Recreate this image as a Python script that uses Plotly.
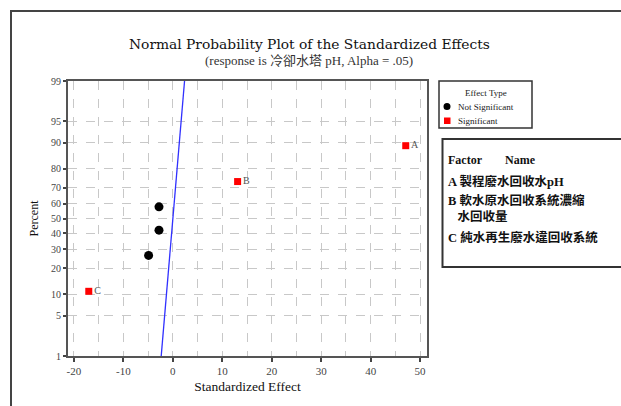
import plotly.graph_objects as go
from statistics import NormalDist

# ---- data ----
effect_labels = ["C", "", "", "", "B", "A"]
effects = [-17.0, -4.9, -2.8, -2.8, 13.1, 47.1]
percents = [10.9, 26.6, 42.2, 57.8, 73.4, 89.1]
significant = [True, False, False, False, True, True]
line_effect = [-2.35, 2.37]
line_percent = [1, 99]
y_ticks = [1, 5, 10, 20, 30, 40, 50, 60, 70, 80, 90, 95, 99]
x_ticks = [-20, -10, 0, 10, 20, 30, 40, 50]
factors = ["A", "B", "C"]
factor_names = ["製程廢水回收水pH", "軟水原水回收系統濃縮<br>   水回收量", "純水再生廢水違回收系統"]

nd = NormalDist()
z = lambda p: nd.inv_cdf(p / 100.0)

W, H = 621, 406
L, R, T, B = 68, 427, 81, 356
px = lambda v: (v - L) / (R - L)
py = lambda v: (B - v) / (B - T)

SERIF = "Liberation Serif, Times New Roman, serif"
WIDE = "DejaVu Serif, serif"
CJK = "Liberation Serif, Noto Sans CJK TC, serif"

fig = go.Figure()

fig.add_trace(go.Scatter(
    x=line_effect, y=[z(p) for p in line_percent], mode="lines",
    line=dict(color="#3030ff", width=1.3), showlegend=False, hoverinfo="skip"))

ns_x = [e for e, s in zip(effects, significant) if not s]
ns_y = [z(p) for p, s in zip(percents, significant) if not s]
fig.add_trace(go.Scatter(
    x=ns_x, y=ns_y, mode="markers",
    marker=dict(symbol="circle", size=9, color="black"), showlegend=False))

s_x = [e for e, s in zip(effects, significant) if s]
s_y = [z(p) for p, s in zip(percents, significant) if s]
s_t = [l for l, s in zip(effect_labels, significant) if s]
fig.add_trace(go.Scatter(
    x=s_x, y=s_y, mode="markers+text", text=s_t, textposition="middle right",
    textfont=dict(family=SERIF, size=10, color="#555555"),
    marker=dict(symbol="square", size=7, color="#ff0000"), showlegend=False))

shapes = []
annotations = []

# outer frame
shapes.append(dict(type="line", xref="paper", yref="paper", x0=px(10), x1=px(625), y0=py(11), y1=py(11),
                   line=dict(color="#444444", width=2)))
shapes.append(dict(type="line", xref="paper", yref="paper", x0=px(11), x1=px(11), y0=py(11), y1=py(410),
                   line=dict(color="#444444", width=2)))

# legend box
shapes.append(dict(type="rect", xref="paper", yref="paper", x0=px(439), x1=px(532), y0=py(128), y1=py(81),
                   line=dict(color="#333333", width=1.5), fillcolor="white"))
annotations.append(dict(xref="paper", yref="paper", x=px(486), y=py(93), text="Effect Type", showarrow=False,
                        xanchor="center", yanchor="middle", font=dict(family=SERIF, size=9, color="#222")))
shapes.append(dict(type="circle", xref="paper", yref="paper", x0=px(443.5), x1=px(450.5), y0=py(110), y1=py(103),
                   line=dict(color="black", width=0), fillcolor="black"))
annotations.append(dict(xref="paper", yref="paper", x=px(456), y=py(107), text="Not Significant", showarrow=False,
                        xanchor="left", yanchor="middle", font=dict(family=SERIF, size=9, color="#222")))
shapes.append(dict(type="rect", xref="paper", yref="paper", x0=px(444), x1=px(450.5), y0=py(124), y1=py(117.5),
                   line=dict(color="red", width=0), fillcolor="#ff0000"))
annotations.append(dict(xref="paper", yref="paper", x=px(456), y=py(121), text="Significant", showarrow=False,
                        xanchor="left", yanchor="middle", font=dict(family=SERIF, size=9, color="#222")))

# factor box
shapes.append(dict(type="rect", xref="paper", yref="paper", x0=px(442.5), x1=px(640), y0=py(267), y1=py(139),
                   line=dict(color="#333333", width=2), fillcolor="white"))
annotations.append(dict(xref="paper", yref="paper", x=px(446), y=py(160), text="<b>Factor</b>", showarrow=False,
                        xanchor="left", yanchor="middle", font=dict(family=SERIF, size=12, color="#111")))
annotations.append(dict(xref="paper", yref="paper", x=px(503), y=py(160), text="<b>Name</b>", showarrow=False,
                        xanchor="left", yanchor="middle", font=dict(family=SERIF, size=12, color="#111")))
rows_y = [181, 208, 237]
for f, name, yy in zip(factors, factor_names, rows_y):
    annotations.append(dict(xref="paper", yref="paper", x=px(446), y=py(yy),
                            text="<b>" + f + " " + name + "</b>", showarrow=False, align="left",
                            xanchor="left", yanchor="middle",
                            font=dict(family=CJK, size=12.5, color="#111")))

# titles
annotations.append(dict(xref="paper", yref="paper", x=px(309), y=py(44),
                        text="Normal Probability Plot of the Standardized Effects", showarrow=False,
                        xanchor="center", yanchor="middle", font=dict(family=WIDE, size=13.8, color="#111")))
annotations.append(dict(xref="paper", yref="paper", x=px(309), y=py(61),
                        text="(response is 冷卻水塔 pH, Alpha = .05)", showarrow=False,
                        xanchor="center", yanchor="middle", font=dict(family=CJK, size=13, color="#333")))

fig.update_layout(
    width=W, height=H, margin=dict(l=L, r=W - R, t=T, b=H - B, autoexpand=False),
    paper_bgcolor="white", plot_bgcolor="white",
    shapes=shapes, annotations=annotations, showlegend=False,
    font=dict(family=SERIF, color="#333"),
)

fig.update_xaxes(
    range=[-21.2, 51.4], tickvals=x_ticks, ticktext=[str(v) for v in x_ticks],
    ticks="outside", ticklen=4, tickwidth=1.5, tickcolor="#444",
    showgrid=True, gridcolor="#c8c8c8", griddash="dash", gridwidth=1,
    minor=dict(dtick=5, tick0=0, showgrid=True, gridcolor="#c8c8c8", griddash="dash", ticks=""),
    showline=True, linecolor="#555", linewidth=2, mirror=True, zeroline=False,
    tickfont=dict(family=SERIF, size=11, color="#444"),
    title=dict(text="Standardized Effect", font=dict(family=SERIF, size=13.5, color="#111"), standoff=5),
)
fig.update_yaxes(
    range=[z(1), z(99)], tickvals=[z(p) for p in y_ticks], ticktext=[str(p) for p in y_ticks],
    ticks="outside", ticklen=3, tickwidth=1.5, tickcolor="#444",
    showgrid=True, gridcolor="#c8c8c8", griddash="dash", gridwidth=1,
    showline=True, linecolor="#555", linewidth=2, mirror=True, zeroline=False,
    tickfont=dict(family=SERIF, size=10, color="#444"),
    title=dict(text="Percent", font=dict(family=SERIF, size=12, color="#111"), standoff=10),
)

fig.write_html("out.html")
